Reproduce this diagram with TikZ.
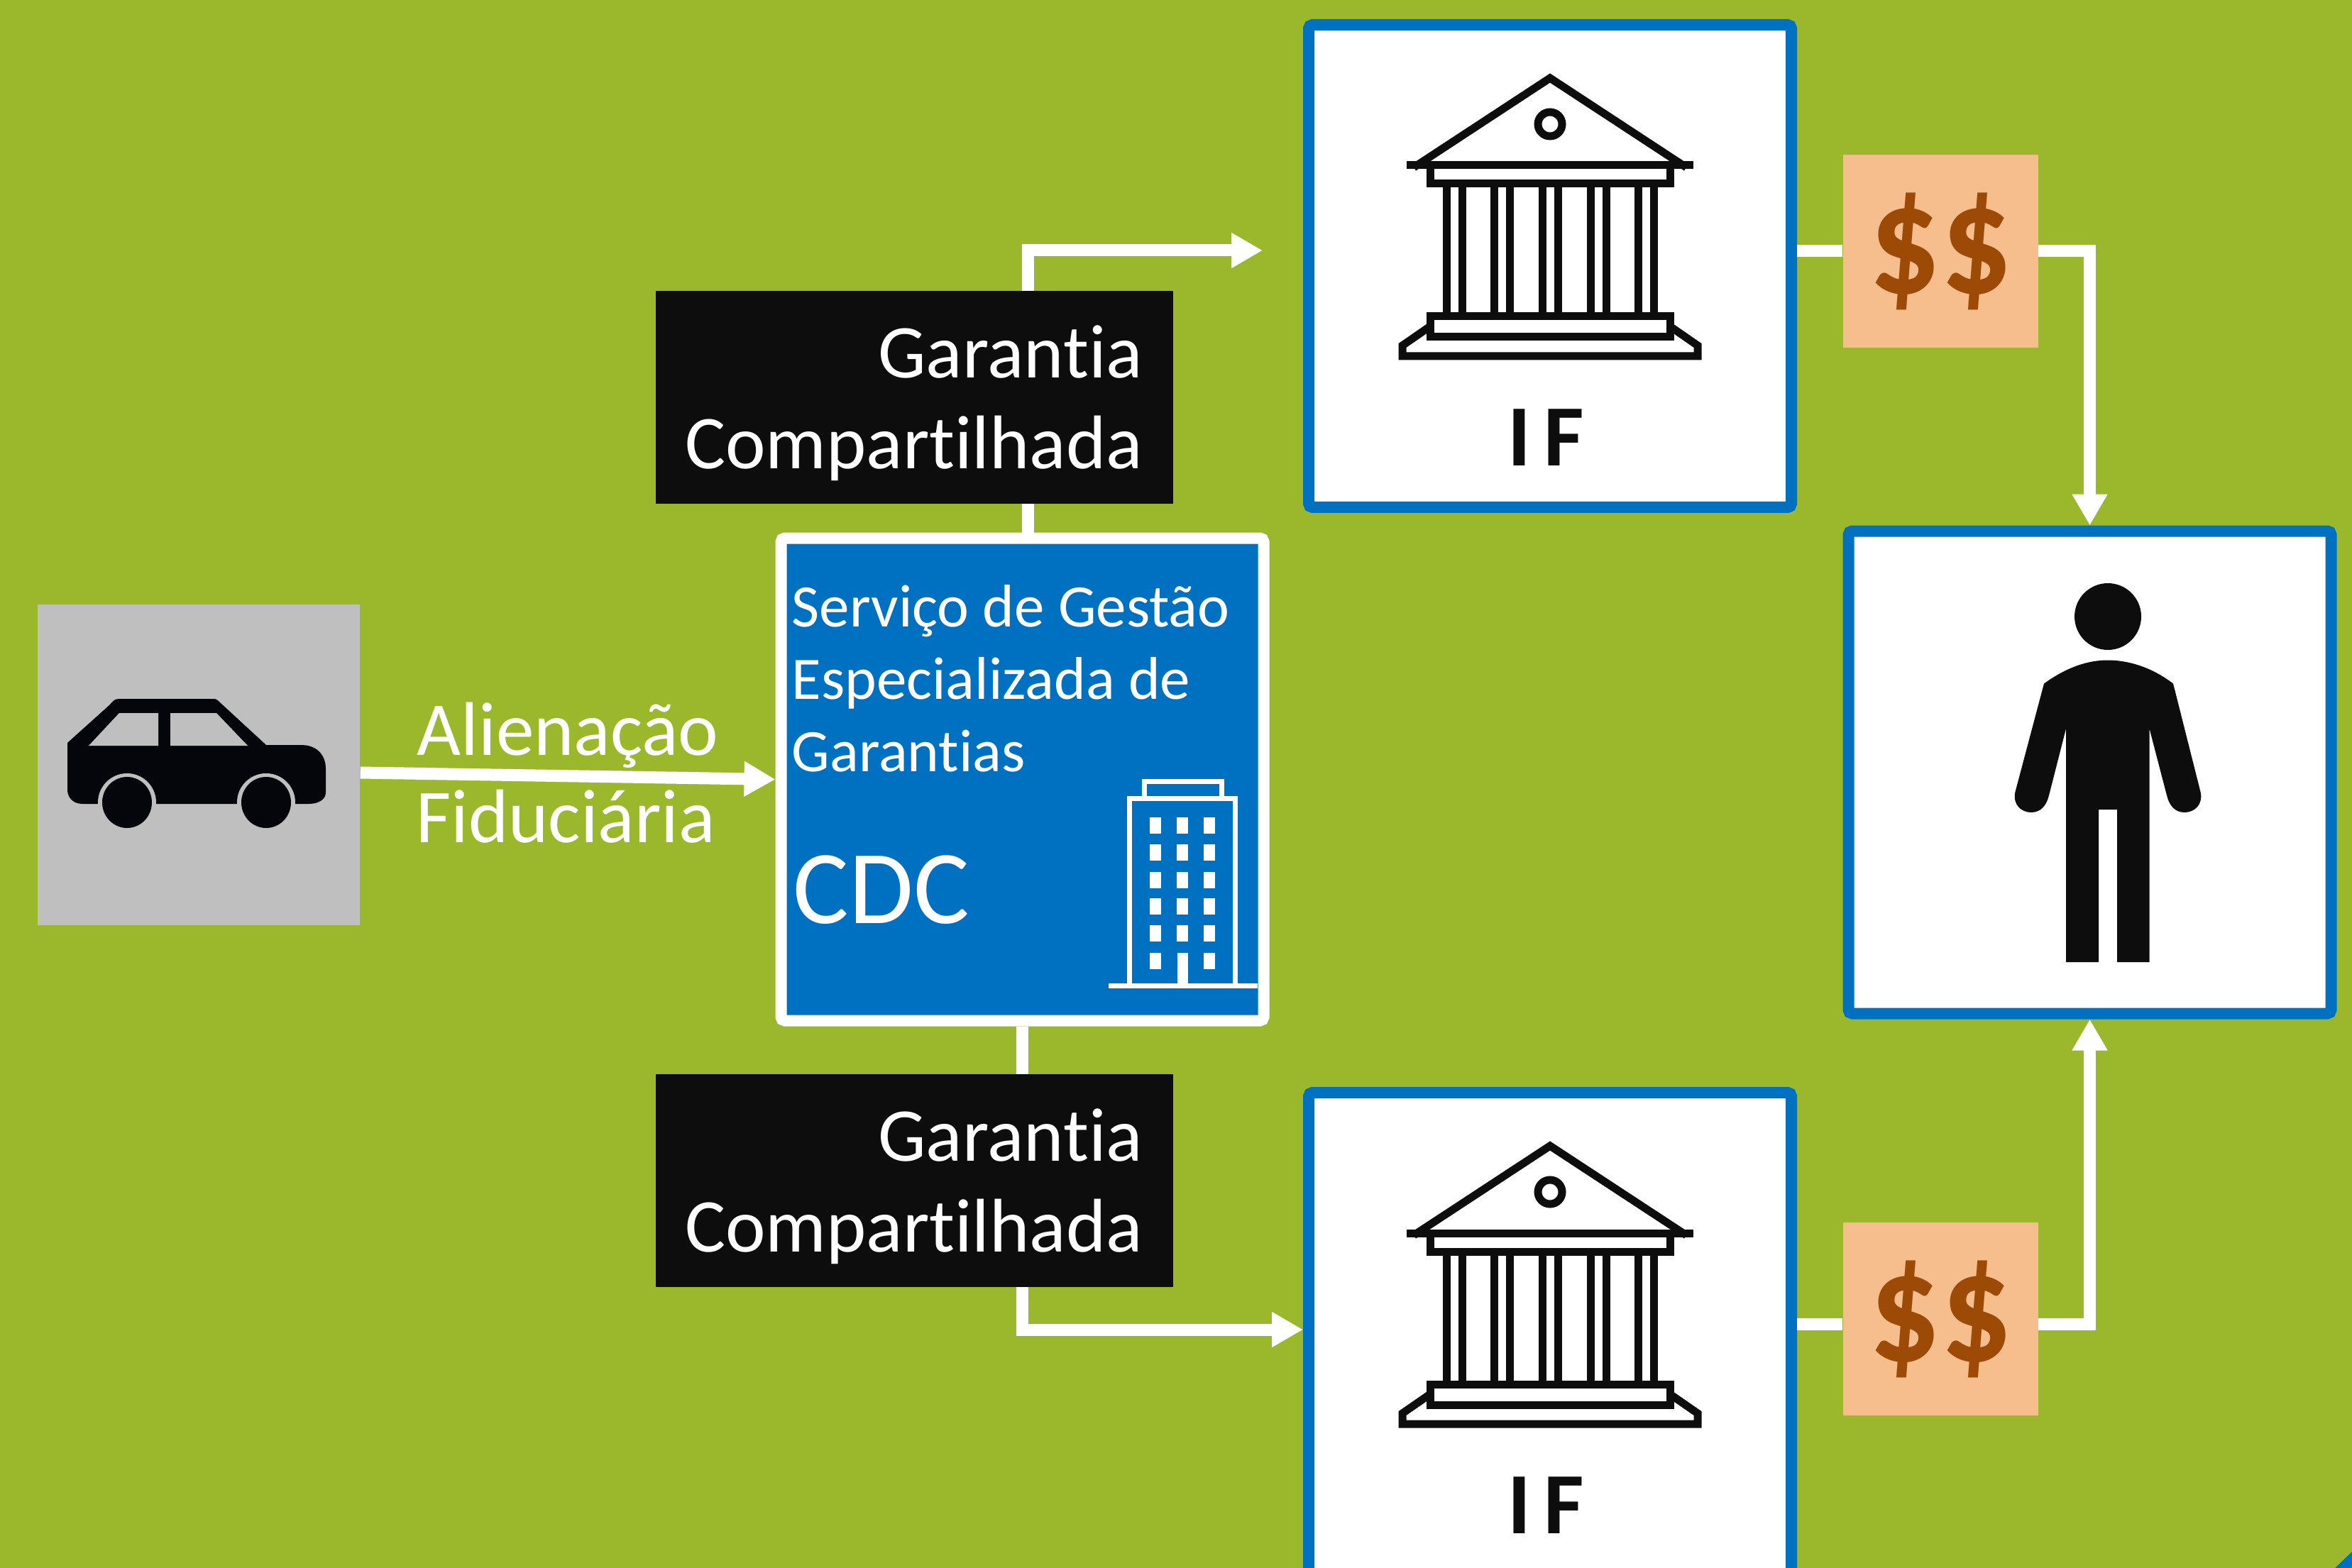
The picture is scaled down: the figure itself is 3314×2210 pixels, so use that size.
\documentclass[tikz,border=0pt]{standalone}
\usepackage{fontspec}
\setmainfont{Carlito}[Ligatures=NoCommon]
\usetikzlibrary{positioning,arrows.meta}

\definecolor{bggreen}{HTML}{9BB82C}
\definecolor{cdcblue}{HTML}{0070C0}
\definecolor{ink}{HTML}{0D0D0D}
\definecolor{carinkc}{HTML}{05060C}
\definecolor{cargray}{HTML}{BFBFBF}
\definecolor{moneyfill}{HTML}{F6BE8C}
\definecolor{moneyink}{HTML}{9C4A06}

\begin{document}
\begin{tikzpicture}[
  x=0.1mm, y=-0.1mm,
  framebox/.style={draw=cdcblue, fill=white, line width=1.6mm, rounded corners=1.5pt, minimum width=68mm, minimum height=68mm},
  cdcbox/.style={framebox, draw=white, fill=cdcblue},
  carbox/.style={fill=cargray, minimum width=45.4mm, minimum height=45.2mm, inner sep=0},
  moneybox/.style={fill=moneyfill, text=moneyink, font=\fontsize{55}{60}\selectfont\bfseries, minimum width=27.5mm, minimum height=27.2mm, inner sep=0},
  guarbox/.style={fill=ink, minimum width=72.9mm, minimum height=30mm, inner sep=0},
  guartext/.style={text=white, font=\fontsize{30.5}{36.4}\selectfont, align=right, inner sep=0, xshift=-4.3mm, yshift=-0.8mm},
  iflabel/.style={text=ink, inner sep=0, xshift=-0.6mm, font=\fontsize{35}{40}\selectfont\bfseries\addfontfeature{LetterSpace=15}},
  conn/.style={draw=white, line width=1.7mm},
  arr/.style={conn, -{Triangle[length=4.4mm, width=4.7mm]}},
  note/.style={text=white, font=\fontsize{30.5}{36}\selectfont, midway, inner sep=0},
  temple/.pic={
    \begin{scope}[draw=ink, line width=1.1mm]
      \draw (-192,-139) -- (0,-265) -- (192,-139);
      \draw (-202,-142) -- (202,-142);
      \draw (-169,-142) rectangle (169,-116);
      \draw (0,-200) circle (17);
      \foreach \cx in {-135,-68,0,68,135} {
        \draw (\cx-11,-116) -- (\cx-11,71);
        \draw (\cx+11,-116) -- (\cx+11,71);
      }
      \draw (-169,71) rectangle (169,100);
      \draw (-169,85) -- (-208,112) -- (-208,127) -- (208,127) -- (208,112) -- (169,85);
    \end{scope}
  },
  car/.pic={
    \fill[carinkc] (-185,-31) -- (-125,-85) .. controls (-120,-91) and (-118,-93) .. (-112,-93) -- (22,-93) .. controls (25,-93) and (28,-90) .. (31,-87) -- (95,-28) -- (144,-28)
      .. controls (170,-28) and (179,-10) .. (179,5) -- (179,39) .. controls (179,48) and (170,55) .. (155,55)
      -- (-164,55) .. controls (-178,55) and (-185,45) .. (-185,35) -- cycle;
    \fill[cargray] (-155,-27) -- (-112,-73) -- (-57,-73) -- (-57,-27) -- cycle;
    \fill[cargray] (-40,-73) -- (25,-73) -- (69,-27) -- (-40,-27) -- cycle;
    \foreach \wx in {-101,95} {
      \fill[cargray] (\wx,53) ellipse (41 and 41);
      \fill[carinkc] (\wx,53) ellipse (35 and 36);
    }
  },
  figure/.pic={
    \fill[ink] (25.5,-219.5) circle (47);
    \fill[ink] (-64.5,-125) .. controls (-30,-150) and (0,-158) .. (25.5,-158) .. controls (51,-158) and (85,-150) .. (117.5,-125)
      -- (156,27.5) .. controls (160,45) and (148,56.5) .. (133.5,56.5) .. controls (120,56.5) and (112,47) .. (108.5,32.5)
      -- (84,-61.5) -- (84,267.5) -- (38.5,267.5) -- (38.5,52.5) -- (12.5,52.5) -- (12.5,267.5) -- (-33.5,267.5) -- (-33.5,-61.5)
      -- (-57.5,32.5) .. controls (-61,47) and (-69,56.5) .. (-82.5,56.5) .. controls (-97,56.5) and (-109,45) .. (-105,27.5) -- cycle;
  },
  tower/.pic={
    \begin{scope}[draw=white, line width=0.7mm]
      \draw (151,290) -- (151,27) -- (300,27) -- (300,290);
      \draw (172,27) -- (172,3) -- (281,3) -- (281,27);
      \draw (121.5,290.5) -- (331.5,290.5);
    \end{scope}
    \foreach \wy in {64.5,102.5,141.5,178.5,216.5,255.5} {
      \foreach \wx in {187.5,263.5}
        \fill[white] (\wx-8,\wy-11.5) rectangle (\wx+8,\wy+11.5);
    }
    \foreach \wy in {64.5,102.5,141.5,178.5,216.5}
      \fill[white] (225.5-8,\wy-11.5) rectangle (225.5+8,\wy+11.5);
    \fill[white] (225.5-7.5,244) rectangle (225.5+7.5,290);
  }
]

\path[use as bounding box, fill=bggreen] (0,0) rectangle (3314,2210);
\clip (0,0) rectangle (3314,2210);

% nodes
\node[carbox] (carpanel) at (280,1078) {};
\node[cdcbox] (cdc) at (1440.5,1098.5) {};
\node[framebox] (ifTop) at (2184,375) {};
\node[framebox] (ifBottom) at (2184,1880) {};
\node[framebox] (client) at (2944.5,1088.5) {};
\node[moneybox, right=6.4mm of ifTop, yshift=2.1mm] (moneyTop) {\raisebox{-0.8mm}{\scalebox{1.03}[1.14]{\$\$}}};
\node[moneybox, right=6.4mm of ifBottom, yshift=2.1mm] (moneyBottom) {\raisebox{-0.8mm}{\scalebox{1.03}[1.14]{\$\$}}};
\coordinate (ifTopIn) at (1779,353);

% arrows with labels
\draw[arr] ([yshift=-1.1mm]carpanel.east) -- node[note, above=0.3mm] (alienacao) {Alienação} node[note, below=1.1mm, xshift=-0.3mm] (fiduciaria) {Fiduciária} (cdc.west);
\draw[arr] ([xshift=0.8mm]cdc.north) |- (ifTopIn);
\draw[arr] (cdc.south) |- ([yshift=0.6mm]ifBottom.west);
\draw[conn] (ifTop.east |- moneyTop.west) -- (moneyTop.west);
\draw[arr] (moneyTop.east) -| (client.north);
\draw[conn] ([yshift=-0.7mm]moneyBottom.west -| ifBottom.east) -- ([yshift=-0.7mm]moneyBottom.west);
\draw[arr] ([yshift=-0.7mm]moneyBottom.east) -| (client.south);

% boxes over the arrows
\node[guarbox] (guarTop) at (1288.5,560) {};
\node[guarbox] (guarBottom) at (1288.5,1664) {};
\node[guartext, anchor=east] (guarTopText) at (guarTop.east) {Garantia\\Compartilhada};
\node[guartext, anchor=east] (guarBottomText) at (guarBottom.east) {Garantia\\Compartilhada};

% icons
\pic at (carpanel) {car};
\pic at (ifTop) {temple};
\pic at (ifBottom) {temple};
\pic at (client) {figure};
\pic at (cdc) {tower};
\node[iflabel, above=6.6mm of ifTop.south] (ifTopLabel) {IF};
\node[iflabel, above=6.6mm of ifBottom.south] (ifBottomLabel) {IF};

% texts in the blue box
\node[anchor=north west, inner sep=0, align=left, text=white, font=\fontsize{24.2}{29}\selectfont] (cdctitle) at (1115,824) {Serviço de Gestão\\Especializada de\\Garantias};
\node[anchor=base west, inner sep=0, text=white, font=\fontsize{42}{46}\selectfont] (cdcname) at (1117,1301) {CDC};

% corner
\fill[cdcblue] (3290,2210) -- (3314,2187) -- (3314,2210) -- cycle;

\end{tikzpicture}
\end{document}
